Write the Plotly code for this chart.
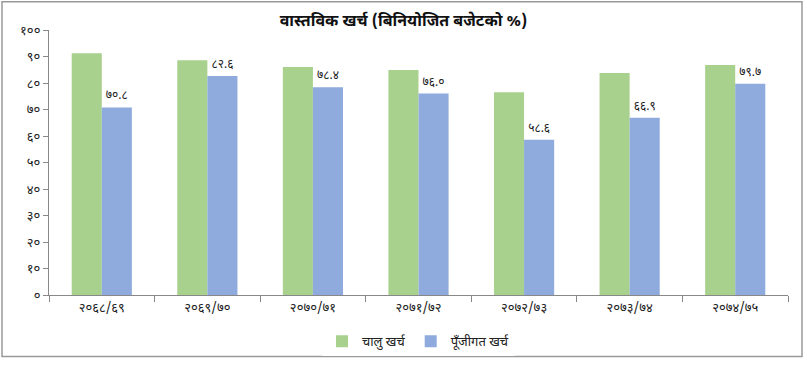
import plotly.graph_objects as go

categories = ["२०६८/६९", "२०६९/७०", "२०७०/७१", "२०७१/७२", "२०७२/७३", "२०७३/७४", "२०७४/७५"]
current_exp = [91.2, 88.6, 86.0, 84.9, 76.5, 83.8, 86.8]
capital_exp = [70.8, 82.6, 78.4, 76.0, 58.6, 66.9, 79.7]
y_ticks = [0, 10, 20, 30, 40, 50, 60, 70, 80, 90, 100]

DEV = str.maketrans("0123456789", "०१२३४५६७८९")
def dev(s):
    return str(s).translate(DEV)

font_family = "Noto Sans Devanagari, Noto Sans, DejaVu Sans, sans-serif"

L, R, T, B = 49, 19, 30, 66
W, H = 807, 368
PW, PH = W - L - R, H - T - B

fig = go.Figure()
fig.add_trace(go.Bar(
    x=categories, y=current_exp, name="चालु खर्च",
    marker=dict(color="#A9D18E", line=dict(width=0)),
))
fig.add_trace(go.Bar(
    x=categories, y=capital_exp, name="पूँजीगत खर्च",
    marker=dict(color="#8FAADC", line=dict(width=0)),
    text=[dev(f"{v:.1f}") for v in capital_exp],
    textposition="outside", cliponaxis=False,
    textfont=dict(size=12, color="#222"),
))

fig.update_layout(
    width=W, height=H,
    barmode="group", bargap=0.43, bargroupgap=0,
    paper_bgcolor="white", plot_bgcolor="white",
    font=dict(family=font_family, color="#222"),
    title=dict(text="<b>वास्तविक खर्च (बिनियोजित बजेटको %)</b>", x=0.5, xanchor="center",
               y=1 - 20 / H, yanchor="middle", font=dict(size=16, color="#111")),
    margin=dict(l=L, r=R, t=T, b=B),
    showlegend=True,
    legend=dict(orientation="h", x=0.5, xanchor="center", y=-32 / PH, yanchor="top",
                font=dict(size=13), itemwidth=30, traceorder="normal"),
    xaxis=dict(type="category", showline=True, linecolor="#888", linewidth=1,
               ticks="outside", tickson="boundaries", ticklen=6, tickcolor="#888",
               tickfont=dict(size=13), showgrid=False),
    yaxis=dict(range=[0, 100], tickvals=y_ticks, ticktext=[dev(v) for v in y_ticks],
               showline=True, linecolor="#888", linewidth=1, ticks="outside",
               ticklen=5, tickcolor="#888", showgrid=False, zeroline=False,
               tickfont=dict(size=13)),
    shapes=[dict(type="rect", xref="paper", yref="paper",
                 x0=(2 - L) / PW, x1=(802 - L) / PW,
                 y0=(T + PH - 365) / PH, y1=(T + PH - 1) / PH,
                 line=dict(color="#999", width=1.5))],
)

fig.write_html("out.html", config={"displayModeBar": False},
               post_script="document.body.style.margin='0';")
